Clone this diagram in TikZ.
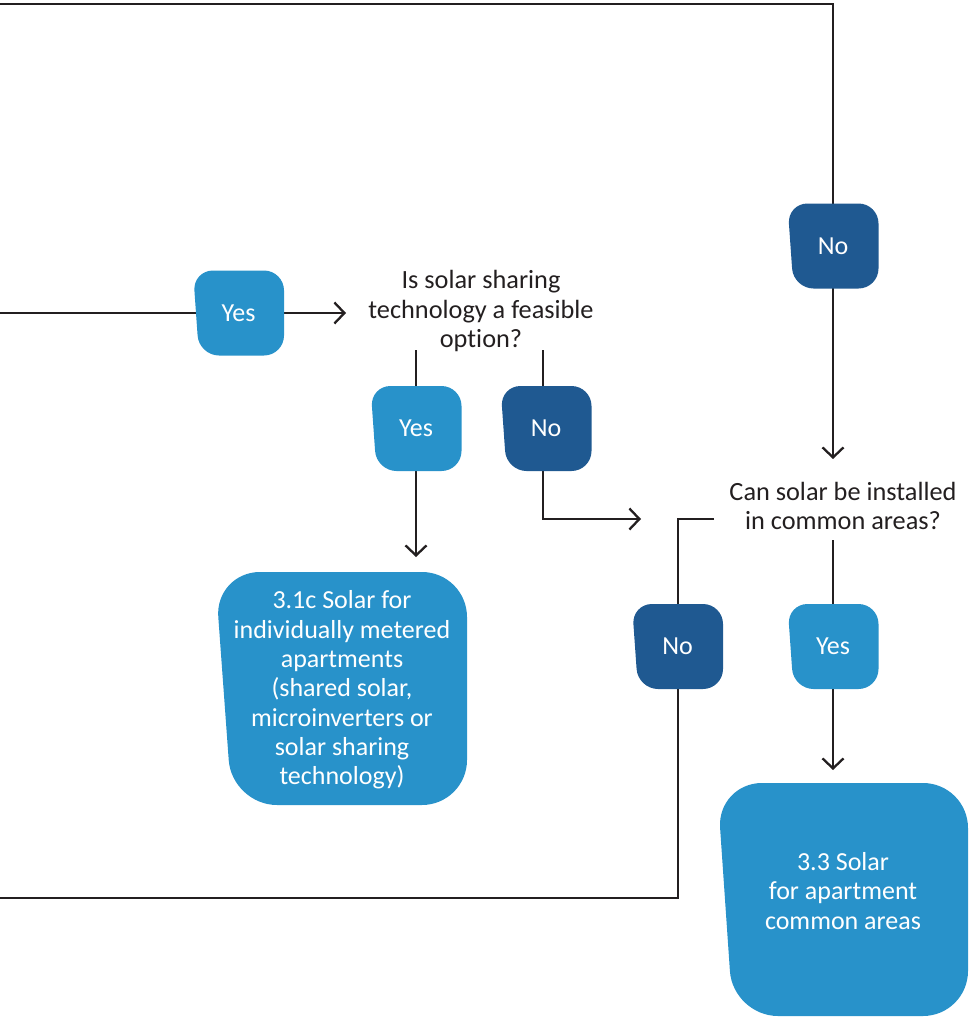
\documentclass[tikz,border=0pt]{standalone}
\usepackage{fontspec}
\setmainfont{Carlito}[Ligatures=NoCommon]
\usetikzlibrary{arrows.meta}
\definecolor{lb}{RGB}{40,146,202}
\definecolor{db}{RGB}{31,89,145}
\definecolor{ln}{RGB}{35,31,32}
\pgfdeclarelayer{bg}\pgfsetlayers{bg,main}
\tikzset{
  conn/.style={draw=ln,line width=2.3pt},
  arr/.style={conn,-{Straight Barb[length=10pt,width=21pt,line width=2.3pt]}},
  qtext/.style={align=center,text=ln,font=\fontsize{26.3}{29.5}\selectfont,inner sep=0pt},
  btext/.style={align=center,text=white,font=\fontsize{26}{29.3}\selectfont,inner sep=0pt},
}
% name, centre x, centre y, colour, text  (box 91 x 85, left side slanted)
\newcommand\slbox[5]{%
  \fill[#4,rounded corners=20pt] ({#2-45.5},{#3-42.5}) -- ({#2+45.5},{#3-42.5}) -- ({#2+45.5},{#3+42.5}) -- ({#2-39.5},{#3+42.5}) -- cycle;
  \node[btext,minimum width=91pt,minimum height=85pt] (#1) at (#2,#3) {#5};}
\begin{document}
\begin{tikzpicture}[x=1pt,y=-1pt]
\useasboundingbox (0,0) rectangle (970,1017);
% questions
\node[qtext] (q1) at (481,311) {Is solar sharing\\technology a feasible\\option?};
\node[qtext] (q2) at (843,506) {Can solar be installed\\in common areas?};
% boxes
\slbox{noA}{833}{246}{db}{No}
\slbox{yesA}{238.5}{313}{lb}{Yes}
\slbox{yesB}{416}{428.5}{lb}{Yes}
\slbox{noB}{546}{428.5}{db}{No}
\slbox{noC}{677.5}{646.5}{db}{No}
\slbox{yesC}{833}{646.5}{lb}{Yes}
\fill[lb,rounded corners=45pt] (215,572) -- (467,572) -- (467,805) -- (232,805) -- cycle;
\node[btext] (r1) at (342,690) {3.1c Solar for\\individually metered\\apartments\\(shared solar,\\microinverters or\\solar sharing\\technology)};
\fill[lb,rounded corners=45pt] (717,783) -- (968,783) -- (968,1016) -- (733,1016) -- cycle;
\node[btext] (r2) at (843,891) {3.3 Solar\\for apartment\\common areas};
% coordinates
\coordinate (topL) at (0,4);
\coordinate (topR) at (833,4);
\coordinate (q2top) at (833,459);
\coordinate (inL) at (0,313);
\coordinate (q1in) at (346,313);
\coordinate (q1a) at (416,350);
\coordinate (r1top) at (416,557);
\coordinate (q1b) at (543,350);
\coordinate (q1bc) at (543,519);
\coordinate (q2in) at (641,519);
\coordinate (q2l) at (714,519);
\coordinate (q2lc) at (678,519);
\coordinate (botR) at (678,898);
\coordinate (botL) at (0,898);
\coordinate (q2b) at (833,540);
\coordinate (r2top) at (833,770);
\begin{pgfonlayer}{bg}
\draw[arr] (topL) -- (topR) -- (noA.center) -- (q2top);
\draw[arr] (inL) -- (yesA.center) -- (q1in);
\draw[arr] (q1a) -- (yesB.center) -- (r1top);
\draw[arr] (q1b) -- (q1b |- noB.center) -- (q1bc) -- (q2in);
\draw[conn] (q2l) -- (q2lc) -- (q2lc |- noC.center) -- (botR) -- (botL);
\draw[arr] (q2b) -- (yesC.center) -- (r2top);
\end{pgfonlayer}
\end{tikzpicture}
\end{document}
